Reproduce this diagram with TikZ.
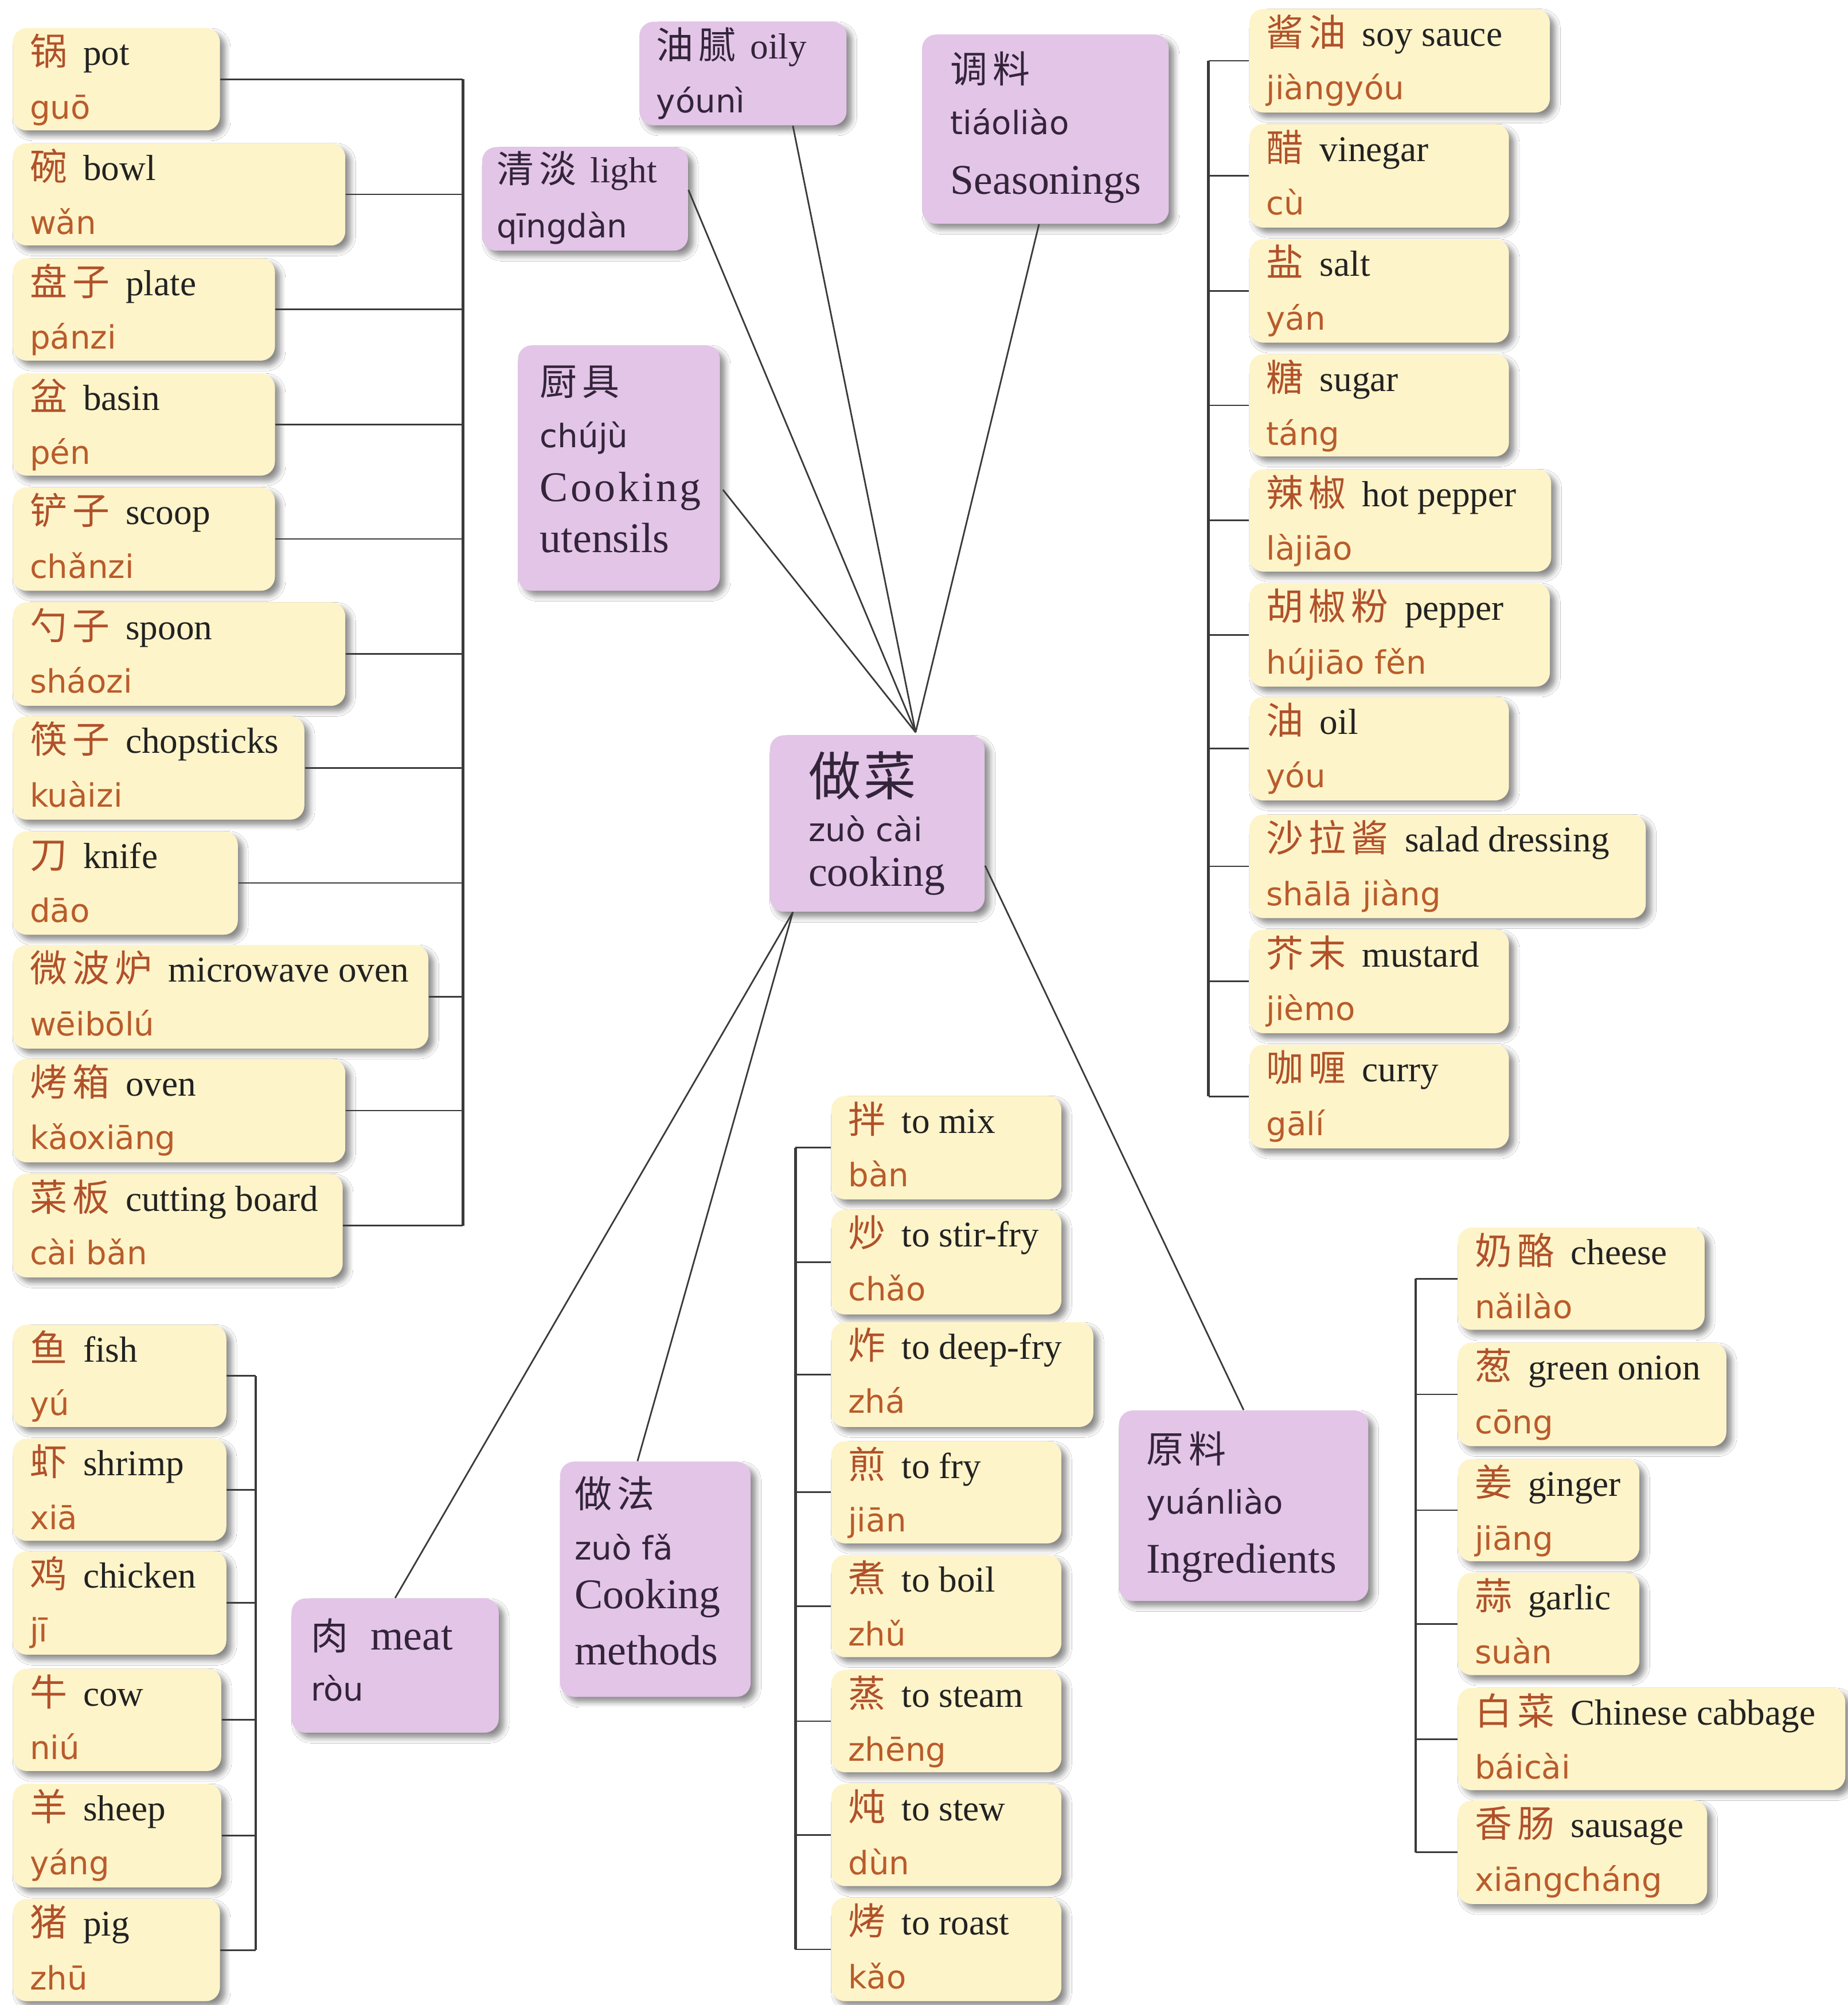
\documentclass[tikz,border=0pt]{standalone}
\usepackage{fontspec}
\setmainfont{Liberation Serif}
\newfontfamily\zhf[LetterSpace=14]{Noto Sans CJK SC}
\newfontfamily\zhbig[LetterSpace=6]{Noto Sans CJK SC}
\newfontfamily\pyf{DejaVu Sans}
\usetikzlibrary{fit,calc,shadows.blur}
\definecolor{yfill}{HTML}{FEF4C9}
\definecolor{pfill}{HTML}{E3C5E8}
\definecolor{zhc}{HTML}{B0512A}
\definecolor{pyc}{HTML}{B95B2B}
\definecolor{enc}{HTML}{222222}
\definecolor{pdark}{HTML}{33243A}
\definecolor{linec}{HTML}{3A3A3A}
\newcommand\yzh[1]{{\zhf\fontsize{18.5}{20}\selectfont\color{zhc}#1}}
\newcommand\yen[1]{{\fontsize{18}{20}\selectfont\color{enc}#1}}
\newcommand\ypy[1]{{\pyf\fontsize{16}{18}\selectfont\color{pyc}#1}}
\newcommand\pzh[1]{{\zhf\fontsize{18.5}{20}\selectfont\color{pdark}#1}}
\newcommand\psen[1]{{\fontsize{18}{20}\selectfont\color{pdark}#1}}
\newcommand\pen[1]{{\fontsize{21}{24}\selectfont\color{pdark}#1}}
\newcommand\ppy[1]{{\pyf\fontsize{16}{18}\selectfont\color{pdark}#1}}
\tikzset{
  boxbase/.style={rounded corners=7pt, inner sep=0pt,
    blur shadow={shadow xshift=2.6pt, shadow yshift=-2.6pt, shadow blur steps=6,
      shadow opacity=45, shadow blur radius=2.6pt}},
  ybox/.style={boxbase, fill=yfill},
  pbox/.style={boxbase, fill=pfill},
  txt/.style={anchor=base west, inner sep=0pt},
  conn/.style={draw=linec, line width=0.8pt},
  bar/.style={draw=linec, line width=1.3pt},
}
\newcommand\yitem[8]{%
  \node[ybox, fit={(#2,#3) (#4,#5)}] (#1) {};
  \node[txt] (#1-l1) at (#2+13,#3+29) {\yzh{#6}\hspace{8pt}\yen{#7}};
  \node[txt] (#1-l2) at (#2+13,#3+71) {\ypy{#8}};
}
\begin{document}
\begin{tikzpicture}[x=0.6346pt,y=-0.6346pt]
\fill[white] (0,0) rectangle (1445,1568);
\useasboundingbox (0,0) rectangle (1445,1568);

% ---------- utensils ----------
\yitem{pot}{10}{22}{172}{102}{锅}{pot}{guō}
\yitem{bowl}{10}{112}{270}{192}{碗}{bowl}{wǎn}
\yitem{plate}{10}{202}{215}{282}{盘子}{plate}{pánzi}
\yitem{basin}{10}{292}{215}{372}{盆}{basin}{pén}
\yitem{scoop}{10}{381}{215}{462}{铲子}{scoop}{chǎnzi}
\yitem{spoon}{10}{471}{270}{552}{勺子}{spoon}{sháozi}
\yitem{chop}{10}{560}{238}{641}{筷子}{chopsticks}{kuàizi}
\yitem{knife}{10}{650}{186}{731}{刀}{knife}{dāo}
\yitem{micro}{10}{739}{335}{820}{微波炉}{microwave oven}{wēibōlú}
\yitem{oven}{10}{828}{270}{909}{烤箱}{oven}{kǎoxiāng}
\yitem{board}{10}{918}{268}{999}{菜板}{cutting board}{cài bǎn}

% ---------- seasonings ----------
\yitem{soy}{977}{7}{1212}{88}{酱油}{soy sauce}{jiàngyóu}
\yitem{vinegar}{977}{97}{1180}{178}{醋}{vinegar}{cù}
\yitem{salt}{977}{187}{1180}{268}{盐}{salt}{yán}
\yitem{sugar}{977}{277}{1180}{357}{糖}{sugar}{táng}
\yitem{hot}{977}{367}{1213}{447}{辣椒}{hot pepper}{làjiāo}
\yitem{pepper}{977}{456}{1212}{537}{胡椒粉}{pepper}{hújiāo fěn}
\yitem{oil}{977}{545}{1180}{626}{油}{oil}{yóu}
\yitem{salad}{977}{637}{1287}{718}{沙拉酱}{salad dressing}{shālā jiàng}
\yitem{mustard}{977}{727}{1180}{808}{芥末}{mustard}{jièmo}
\yitem{curry}{977}{817}{1180}{898}{咖喱}{curry}{gālí}

% ---------- methods ----------
\yitem{mix}{650}{857}{830}{938}{拌}{to mix}{bàn}
\yitem{stir}{650}{946}{830}{1028}{炒}{to stir-fry}{chǎo}
\yitem{deep}{650}{1034}{855}{1116}{炸}{to deep-fry}{zhá}
\yitem{fry}{650}{1127}{830}{1207}{煎}{to fry}{jiān}
\yitem{boil}{650}{1216}{830}{1296}{煮}{to boil}{zhǔ}
\yitem{steam}{650}{1306}{830}{1386}{蒸}{to steam}{zhēng}
\yitem{stew}{650}{1395}{830}{1475}{炖}{to stew}{dùn}
\yitem{roast}{650}{1484}{830}{1565}{烤}{to roast}{kǎo}

% ---------- ingredients ----------
\yitem{cheese}{1140}{960}{1333}{1040}{奶酪}{cheese}{nǎilào}
\yitem{onion}{1140}{1050}{1350}{1131}{葱}{green onion}{cōng}
\yitem{ginger}{1140}{1141}{1282}{1221}{姜}{ginger}{jiāng}
\yitem{garlic}{1140}{1230}{1282}{1310}{蒜}{garlic}{suàn}
\yitem{cabbage}{1140}{1320}{1443}{1400}{白菜}{Chinese cabbage}{báicài}
\yitem{sausage}{1140}{1408}{1335}{1489}{香肠}{sausage}{xiāngcháng}

% ---------- meat ----------
\yitem{fish}{10}{1036}{177}{1116}{鱼}{fish}{yú}
\yitem{shrimp}{10}{1125}{177}{1205}{虾}{shrimp}{xiā}
\yitem{chicken}{10}{1213}{177}{1294}{鸡}{chicken}{jī}
\yitem{cow}{10}{1305}{173}{1385}{牛}{cow}{niú}
\yitem{sheep}{10}{1395}{173}{1476}{羊}{sheep}{yáng}
\yitem{pig}{10}{1485}{172}{1565}{猪}{pig}{zhū}

% ---------- purple boxes ----------
\node[pbox, fit={(500,17) (662,98)}] (oily) {};
\node[txt] (oily-l1) at (513,46) {\pzh{油腻}\hspace{7pt}\psen{oily}};
\node[txt] (oily-l2) at (513,88) {\ppy{yóunì}};

\node[pbox, fit={(377,115) (538,196)}] (light) {};
\node[txt] (light-l1) at (388,143) {\pzh{清淡}\hspace{7pt}\psen{light}};
\node[txt] (light-l2) at (388,186) {\ppy{qīngdàn}};

\node[pbox, fit={(721,27) (914,175)}] (tiao) {};
\node[txt] (tiao-l1) at (743,65) {\pzh{调料}};
\node[txt] (tiao-l2) at (743,105) {\ppy{tiáoliào}};
\node[txt] (tiao-l3) at (743,152) {\pen{Seasonings}};

\node[pbox, fit={(405,270) (563,462)}] (chuju) {};
\node[txt] (chuju-l1) at (422,309) {\pzh{厨具}};
\node[txt] (chuju-l2) at (422,350) {\ppy{chújù}};
\node[txt] (chuju-l3) at (422,392) {\pen{\addfontfeature{LetterSpace=6}Cooking}};
\node[txt] (chuju-l4) at (422,432) {\pen{utensils}};

\node[pbox, fit={(602,575) (770,713)}] (main) {};
\node[txt] (main-l1) at (632,622) {{\zhbig\fontsize{26}{28}\selectfont\color{pdark}做菜}};
\node[txt] (main-l2) at (632,658) {\ppy{zuò cài}};
\node[txt] (main-l3) at (632,693) {\pen{cooking}};

\node[pbox, fit={(438,1143) (587,1327)}] (zuofa) {};
\node[txt] (zuofa-l1) at (449,1179) {\pzh{做法}};
\node[txt] (zuofa-l2) at (449,1220) {\ppy{zuò fǎ}};
\node[txt] (zuofa-l3) at (449,1258) {\pen{Cooking}};
\node[txt] (zuofa-l4) at (449,1302) {\pen{methods}};

\node[pbox, fit={(875,1103) (1070,1252)}] (yuan) {};
\node[txt] (yuan-l1) at (896,1144) {\pzh{原料}};
\node[txt] (yuan-l2) at (896,1184) {\ppy{yuánliào}};
\node[txt] (yuan-l3) at (896,1230) {\pen{Ingredients}};

\node[pbox, fit={(228,1250) (390,1355)}] (rou) {};
\node[txt] (rou-l1) at (243,1290) {\pzh{肉}\hspace{11pt}\pen{meat}};
\node[txt] (rou-l2) at (243,1330) {\ppy{ròu}};

% ---------- hub connectors ----------
\coordinate (hub) at ($(main.north)+(30,-2)$);
\coordinate (cbl) at ($(main.south)+(-66,0)$);
\coordinate (cr) at ($(main.east)+(0,33)$);
\draw[conn] ($(oily.south)+(39,0)$) -- (hub);
\draw[conn] ($(light.east)+(0,-7)$) -- (hub);
\draw[conn] ($(chuju.east)+(2,17)$) -- (hub);
\draw[conn] ($(tiao.south)+(-5,0)$) -- (hub);
\draw[conn] (cbl) -- (rou.north);
\draw[conn] (cbl) -- ($(zuofa.north)+(-14,0)$);
\draw[conn] (cr) -- (yuan.north);

% ---------- brackets ----------
\coordinate (bU) at (362,0);
\coordinate (bS) at (945,0);
\coordinate (bM) at (622,0);
\coordinate (bI) at (1107,0);
\coordinate (bR) at (200,0);

\foreach \n in {pot,bowl,plate,basin,scoop,spoon,chop,knife,micro,oven,board}
  \draw[conn] (\n.east) -- (\n.east -| bU);
\draw[bar] (pot.east -| bU) -- (board.east -| bU);
\draw[conn] ($(chuju.west)+(0,5)$) -- ($(chuju.west)+(0,5)$ -| bU);

\foreach \n in {soy,vinegar,salt,sugar,hot,pepper,oil,salad,mustard,curry}
  \draw[conn] (\n.west) -- (\n.west -| bS);
\draw[bar] (soy.west -| bS) -- (curry.west -| bS);
\draw[conn] ($(tiao.east)+(0,-4)$) -- ($(tiao.east)+(0,-4)$ -| bS);

\foreach \n in {mix,stir,deep,fry,boil,steam,stew,roast}
  \draw[conn] (\n.west) -- (\n.west -| bM);
\draw[bar] (mix.west -| bM) -- (roast.west -| bM);
\draw[conn] ($(zuofa.east)+(0,10)$) -- ($(zuofa.east)+(0,10)$ -| bM);

\foreach \n in {cheese,onion,ginger,garlic,cabbage,sausage}
  \draw[conn] (\n.west) -- (\n.west -| bI);
\draw[bar] (cheese.west -| bI) -- (sausage.west -| bI);
\draw[conn] ($(yuan.east)+(0,4)$) -- ($(yuan.east)+(0,4)$ -| bI);

\foreach \n in {fish,shrimp,chicken,cow,sheep,pig}
  \draw[conn] (\n.east) -- (\n.east -| bR);
\draw[bar] (fish.east -| bR) -- (pig.east -| bR);
\draw[conn] ($(rou.west)+(0,8)$) -- ($(rou.west)+(0,8)$ -| bR);
\end{tikzpicture}
\end{document}
